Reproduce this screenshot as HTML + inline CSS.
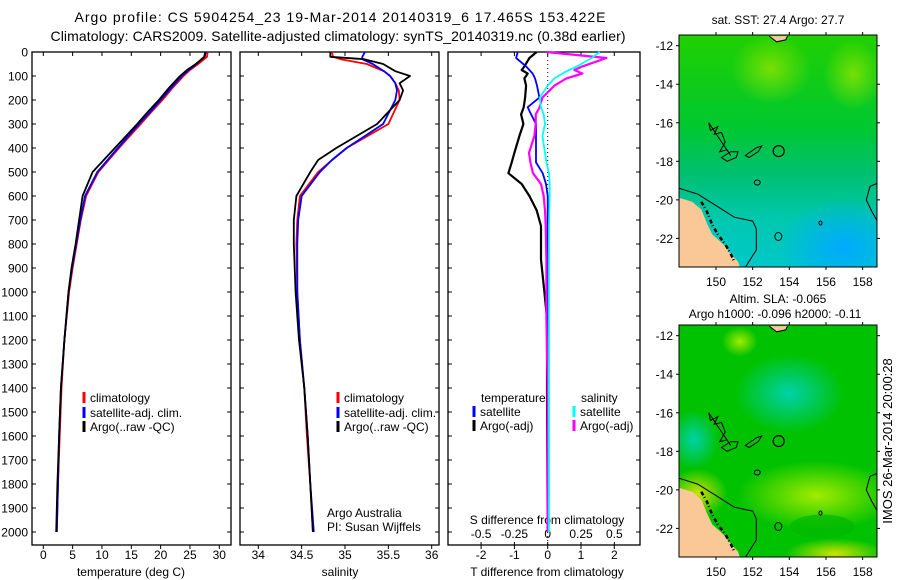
<!DOCTYPE html>
<html><head><meta charset="utf-8"><style>
html,body{margin:0;padding:0;background:#fff;}
svg{display:block;font-family:"Liberation Sans",sans-serif;}
text{font-size:12px;fill:#000;}
</style></head><body>
<svg id="fig" width="900" height="580" viewBox="0 0 900 580" xmlns="http://www.w3.org/2000/svg">
<defs>
<radialGradient id="gy" cx="50%" cy="50%" r="50%"><stop offset="0" stop-color="#a0e800" stop-opacity="0.7"/><stop offset="1" stop-color="#a0e800" stop-opacity="0"/></radialGradient>
<radialGradient id="gy2" cx="50%" cy="50%" r="50%"><stop offset="0" stop-color="#b4f000" stop-opacity="0.9"/><stop offset="1" stop-color="#b4f000" stop-opacity="0"/></radialGradient>
<radialGradient id="gt" cx="50%" cy="50%" r="50%"><stop offset="0" stop-color="#00d2b4" stop-opacity="0.95"/><stop offset="1" stop-color="#00d2b4" stop-opacity="0"/></radialGradient>
<radialGradient id="gb" cx="50%" cy="50%" r="50%"><stop offset="0" stop-color="#00aaff" stop-opacity="1"/><stop offset="1" stop-color="#00aaff" stop-opacity="0"/></radialGradient>
<radialGradient id="gw" cx="50%" cy="50%" r="50%"><stop offset="0" stop-color="#e6e600" stop-opacity="0.9"/><stop offset="1" stop-color="#e6e600" stop-opacity="0"/></radialGradient>
<linearGradient id="sstbase" x1="0" y1="0" x2="0" y2="1"><stop offset="0" stop-color="#20d000"/><stop offset="0.4" stop-color="#00c830"/><stop offset="0.6" stop-color="#00c070"/><stop offset="0.8" stop-color="#00c8b0"/><stop offset="1" stop-color="#00c8c8"/></linearGradient>
<clipPath id="c1"><rect x="679" y="35" width="198" height="232"/></clipPath>
<clipPath id="c2"><rect x="679" y="325" width="198" height="232"/></clipPath>
</defs>
<text x="340" y="22" text-anchor="middle" textLength="531" style="font-size:14px">Argo profile: CS 5904254_23 19-Mar-2014 20140319_6 17.465S 153.422E</text>
<text x="338" y="41" text-anchor="middle" textLength="575" style="font-size:14px">Climatology: CARS2009. Satellite-adjusted climatology: synTS_20140319.nc (0.38d earlier)</text>
<g id="axes"></g>
<g id="maps"></g>
<text transform="translate(892,441) rotate(-90)" text-anchor="middle" style="font-size:13px">IMOS 26-Mar-2014 20:00:28</text>
</svg>
<script>
// ---- data ----
const tDepth = [0,20,50,75,100,150,200,250,300,400,500,600,700,800,900,1000,1200,1400,1600,1800,2000];
const tClim  = [28.0,27.9,26.4,25.0,23.9,22.0,20.3,18.4,16.6,12.9,9.4,7.3,6.4,5.7,5.0,4.4,3.6,3.1,2.8,2.5,2.3];
const tSat   = [27.6,27.4,26.1,24.8,23.6,21.8,20.0,18.2,16.3,12.7,9.2,7.1,6.3,5.6,4.9,4.3,3.6,3.0,2.7,2.5,2.3];
const tArgo  = [27.7,27.5,26.0,24.5,23.3,21.4,19.7,17.8,16.0,12.2,8.4,6.7,6.1,5.5,4.8,4.3,3.6,3.0,2.7,2.4,2.2];
const sDepth = [0,20,30,50,80,100,130,160,200,300,400,450,500,600,700,800,1000,1200,1400,1600,1800,2000];
const sClim  = [34.85,34.86,34.95,35.25,35.45,35.52,35.58,35.62,35.63,35.5,35.02,34.85,34.69,34.48,34.45,34.44,34.45,34.48,34.53,34.56,34.6,34.63];
const sSat   = [35.23,35.2,35.2,35.32,35.45,35.52,35.58,35.6,35.58,35.44,35.02,34.85,34.71,34.5,34.46,34.45,34.45,34.48,34.53,34.57,34.6,34.64];
const sArgo  = [34.83,34.83,35.22,35.44,35.58,35.75,35.63,35.67,35.63,35.37,34.9,34.69,34.6,34.44,34.41,34.41,34.43,34.47,34.53,34.57,34.6,34.63];
const dDepth = [0,25,60,75,90,110,140,190,230,260,300,350,420,460,505,550,600,660,725,865,1000,1110,1400,2000];
const dTsat  = [-0.9,-0.95,-0.65,-0.55,-0.45,-0.38,-0.32,-0.25,-0.6,-0.5,-0.35,-0.35,-0.35,-0.35,-0.15,-0.05,0,0,0,0,0,0,0,0];
const dTargo = [-0.33,-0.55,-0.7,-0.78,-0.6,-0.7,-0.65,-0.68,-0.72,-0.8,-0.73,-0.85,-1.0,-1.08,-1.18,-0.78,-0.55,-0.33,-0.2,-0.2,-0.1,-0.02,-0.02,0];
const dSsat  = [0.39,0.33,0.22,0.16,0.11,0.05,0.0,-0.06,-0.05,-0.03,-0.02,-0.04,-0.02,-0.01,0.01,0.015,0.015,0.012,0.01,0.01,0.01,0.01,0.01,0.01];
const dSargo = [-0.01,0.44,0.26,0.2,0.26,0.14,0.05,-0.04,-0.06,-0.09,-0.09,-0.1,-0.14,-0.13,-0.11,-0.05,-0.03,-0.02,-0.015,-0.01,-0.01,-0.01,0,0];
const depthTicks = [0,100,200,300,400,500,600,700,800,900,1000,1100,1200,1300,1400,1500,1600,1700,1800,1900,2000];
const tTicks = [0,5,10,15,20,25,30];
const sTicks = [34,34.5,35,35.5,36];
const dtTicks = [-2,-1,0,1,2];
const dsTicks = [-0.5,-0.25,0,0.25,0.5];
const lonTicks = [150,152,154,156,158];
const latTicks = [-12,-14,-16,-18,-20,-22];

const NS="http://www.w3.org/2000/svg";
const ax=document.getElementById('axes');
function mk(tag,attrs,parent,txt){const e=document.createElementNS(NS,tag);for(const k in attrs)e.setAttribute(k,attrs[k]);if(txt!==undefined)e.textContent=txt;(parent||ax).appendChild(e);return e;}
const top0=52,bot=545;
function yD(d){return 52+d*0.24;}
const xT=v=>43.3+(v-0)*5.867;
const xS=v=>258.3+(v-34)*86.7;
const xDT=v=>547.7+v*33.3;
const xDS=v=>547.7+v*133.3;

function frame(x0,x1,name,leftLabels){
  const r=mk('rect',{x:x0,y:top0,width:x1-x0,height:bot-top0,fill:'none',stroke:'#000','stroke-width':1.3});
  
  
  depthTicks.forEach(d=>{
    mk('line',{x1:x0,x2:x0+4,y1:yD(d),y2:yD(d),stroke:'#000'});
    mk('line',{x1:x1,x2:x1-4,y1:yD(d),y2:yD(d),stroke:'#000'});
    if(leftLabels){const t=mk('text',{x:28,y:yD(d)+4.5,'text-anchor':'end'},ax,String(d));
      
      }
  });
}
function xticks(ticks,fx,labelY,topInside,fmt){
  ticks.forEach(v=>{const x=fx(v);
    mk('line',{x1:x,x2:x,y1:bot,y2:bot+4,stroke:'#000'});
    if(topInside) mk('line',{x1:x,x2:x,y1:top0,y2:top0+4,stroke:'#000'});
    const t=mk('text',{x:x,y:labelY,'text-anchor':'middle'},ax,fmt?fmt(v):String(v));
    
    
  });
}
function series(depths,vals,fx,color,name,w){
  const pts=depths.map((d,i)=>fx(vals[i]).toFixed(1)+','+yD(d).toFixed(1)).join(' ');
  const p=mk('polyline',{points:pts,fill:'none',stroke:color,'stroke-width':w||1.8,'stroke-linejoin':'round'});
  
  
}
function legend(x,y,color,label,name){
  mk('rect',{x:x-1.5,y:y-10,width:3,height:11,fill:color});
  const t=mk('text',{x:x+6,y:y},ax,label);
  
  
}
// panel 1
frame(32,231,'temperature-panel',true);
xticks(tTicks,xT,559,true);
let t1=mk('text',{x:131,y:576,'text-anchor':'middle'},ax,'temperature (deg C)');


series(tDepth,tClim,xT,'#ff0000','temp-climatology-line');
series(tDepth,tSat,xT,'#0000ff','temp-satellite-line');
series(tDepth,tArgo,xT,'#000000','temp-argo-line');
legend(84,402,'#ff0000','climatology','legend-climatology');
legend(84,417,'#0000ff','satellite-adj. clim.','legend-satellite');
legend(84,431,'#000000','Argo(..raw -QC)','legend-argo');
// panel 2
frame(240,439,'salinity-panel',false);
xticks(sTicks,xS,559,true);
let t2=mk('text',{x:340,y:576,'text-anchor':'middle'},ax,'salinity');


series(sDepth,sClim,xS,'#ff0000','sal-climatology-line');
series(sDepth,sSat,xS,'#0000ff','sal-satellite-line');
series(sDepth,sArgo,xS,'#000000','sal-argo-line');
legend(338,402,'#ff0000','climatology','legend-climatology-2');
legend(338,417,'#0000ff','satellite-adj. clim.','legend-satellite-2');
legend(338,431,'#000000','Argo(..raw -QC)','legend-argo-2');
let a1=mk('text',{x:327,y:517},ax,'Argo Australia');
let a2=mk('text',{x:327,y:531},ax,'PI: Susan Wijffels');
// panel 3
frame(448,640,'difference-panel',false);
xticks(dtTicks,xDT,559,true);
dsTicks.forEach(v=>{const x=xDS(v);mk('line',{x1:x,x2:x,y1:bot,y2:bot-3,stroke:'#000'});
  const t=mk('text',{x:x,y:538,'text-anchor':'middle'},ax,String(v));
  
  });
let t3=mk('text',{x:547,y:576,'text-anchor':'middle'},ax,'T difference from climatology');

let t4=mk('text',{x:547,y:524,'text-anchor':'middle'},ax,'S difference from climatology');

mk('line',{x1:547.7,x2:547.7,y1:top0,y2:bot,stroke:'#000','stroke-dasharray':'1,3'});
series(dDepth,dTargo,xDT,'#000000','tdiff-argo-line',2.2);
series(dDepth,dTsat,xDT,'#0000ff','tdiff-satellite-line',1.8);
series(dDepth,dSargo,xDS,'#ff00ff','sdiff-argo-line',2.2);
series(dDepth,dSsat,xDS,'#00ffff','sdiff-satellite-line',1.8);
let lt=mk('text',{x:481,y:402},ax,'temperature');
let ls=mk('text',{x:581,y:402},ax,'salinity');
legend(474,416,'#0000ff','satellite','legend-tdiff-satellite');
legend(474,430,'#000000','Argo(-adj)','legend-tdiff-argo');
legend(574,416,'#00ffff','satellite','legend-sdiff-satellite');
legend(574,430,'#ff00ff','Argo(-adj)','legend-sdiff-argo');

// ---- maps ----
const mg=document.getElementById('maps');
const lonX=lon=>716+(lon-150)*18.33;
function map(top,clip,name,title1,title2,kind){
  const latY=lat=>top+10.7+(-12-lat)*19.27;
  const g=mk('g',{'clip-path':'url(#'+clip+')'},mg);
  
  
  if(kind==='sst'){
    mk('rect',{x:679,y:top,width:198,height:232,fill:'url(#sstbase)'},g);
    mk('ellipse',{cx:lonX(153),cy:latY(-13.2),rx:40,ry:35,fill:'url(#gy)'},g);
    mk('ellipse',{cx:lonX(157.5),cy:latY(-13.5),rx:30,ry:35,fill:'url(#gy)'},g);
    mk('ellipse',{cx:lonX(157),cy:latY(-22.5),rx:65,ry:50,fill:'url(#gb)'},g);
  } else {
    mk('rect',{x:679,y:top,width:198,height:232,fill:'#00c200'},g);
    mk('ellipse',{cx:lonX(154),cy:latY(-15),rx:55,ry:40,fill:'url(#gt)'},g);
    mk('ellipse',{cx:lonX(148.8),cy:latY(-17.4),rx:25,ry:30,fill:'url(#gt)'},g);
    mk('ellipse',{cx:lonX(151.3),cy:latY(-12.3),rx:18,ry:15,fill:'url(#gy2)'},g);
    mk('ellipse',{cx:lonX(155.5),cy:latY(-20.3),rx:80,ry:35,fill:'url(#gy2)'},g);
    mk('ellipse',{cx:lonX(149),cy:latY(-20.2),rx:30,ry:25,fill:'url(#gw)'},g);
    mk('ellipse',{cx:lonX(156.5),cy:latY(-23.3),rx:50,ry:15,fill:'url(#gw)'},g);
    mk('ellipse',{cx:lonX(155.8),cy:latY(-21.9),rx:32,ry:12,fill:'#00b800',opacity:0.7},g);
  }
  const P=a=>a.map(p=>lonX(p[0]).toFixed(1)+','+latY(p[1]).toFixed(1)).join(' ');
  mk('polygon',{points:P([[148,-19.9],[148.7,-20.1],[149.2,-20.5],[149.5,-21.2],[149.8,-21.8],[150.4,-22.3],[150.8,-22.8],[151.2,-23.2],[151.4,-23.8],[148,-23.8]]),fill:'#f9c896'},g);
  mk('polyline',{points:P([[148,-19.4],[149,-19.7],[150,-20.3],[151,-20.9],[152,-21.1],[152.2,-21.5],[152.2,-22.6],[151.8,-23.2],[151.4,-23.8]]),fill:'none',stroke:'#000'},g);
  mk('polyline',{points:P([[158.9,-19.1],[158.4,-19.3],[158.2,-20],[158.5,-20.6],[158.8,-21.1]]),fill:'none',stroke:'#000'},g);
  mk('polyline',{points:P([[152.9,-11.5],[153.3,-11.8],[153.8,-11.7],[153.9,-11.5]]),fill:'#f9c896',stroke:'#000'},g);
  mk('polygon',{points:P([[149.6,-16],[149.7,-16.4],[150.1,-16.2],[149.9,-16.6],[150.3,-16.5],[150.5,-17],[150.2,-17.5],[150.6,-17.4],[150.8,-17.7]]),fill:'none',stroke:'#000'},g);
  mk('polygon',{points:P([[150.3,-17.8],[150.8,-17.5],[151.2,-17.5],[151.1,-17.8],[150.6,-18]]),fill:'none',stroke:'#000'},g);
  mk('polygon',{points:P([[151.6,-17.7],[152.2,-17.3],[152.5,-17.2],[152.3,-17.5],[151.8,-17.8]]),fill:'none',stroke:'#000'},g);
  mk('circle',{cx:lonX(153.42),cy:latY(-17.47),r:5.5,fill:'none',stroke:'#000','stroke-width':1.2},g);
  mk('ellipse',{cx:lonX(152.25),cy:latY(-19.1),rx:3,ry:2.5,fill:'none',stroke:'#000'},g);
  mk('ellipse',{cx:lonX(153.4),cy:latY(-21.9),rx:3.5,ry:4,fill:'none',stroke:'#000'},g);
  mk('ellipse',{cx:lonX(155.7),cy:latY(-21.2),rx:1.5,ry:2,fill:'none',stroke:'#000'},g);
  mk('polyline',{points:P([[149.2,-20.1],[149.5,-20.6],[149.8,-21.3],[150.1,-21.8],[150.5,-22.3],[150.8,-22.8],[151,-23.2]]),fill:'none',stroke:'#000','stroke-width':2.5,'stroke-dasharray':'4,2,1,3'},g);
  const fr=mk('rect',{x:679,y:top,width:198,height:232,fill:'none',stroke:'#000'},mg);
  
  
  lonTicks.forEach(l=>{const x=lonX(l);
    mk('line',{x1:x,x2:x,y1:top,y2:top-3,stroke:'#000'},mg);
    mk('line',{x1:x,x2:x,y1:top+232,y2:top+235,stroke:'#000'},mg);
    const t=mk('text',{x:x,y:top+251,'text-anchor':'middle'},mg,String(l));
    
    });
  latTicks.forEach(l=>{const y=latY(l);
    mk('line',{x1:679,x2:676,y1:y,y2:y,stroke:'#000'},mg);
    mk('line',{x1:877,x2:880,y1:y,y2:y,stroke:'#000'},mg);
    const t=mk('text',{x:673,y:y+4.5,'text-anchor':'end'},mg,String(l));
    
    });
  if(title1){const t=mk('text',{x:778,y:top-(title2?22:11),'text-anchor':'middle'},mg,title1);
    
    }
  if(title2){const t=mk('text',{x:775,y:top-7,'text-anchor':'middle'},mg,title2);
    
    }
}
map(35,'c1','sst-map','sat. SST: 27.4  Argo: 27.7',null,'sst');
map(325,'c2','sla-map','Altim. SLA: -0.065','Argo h1000: -0.096 h2000: -0.11','sla');
</script>
</body></html>
